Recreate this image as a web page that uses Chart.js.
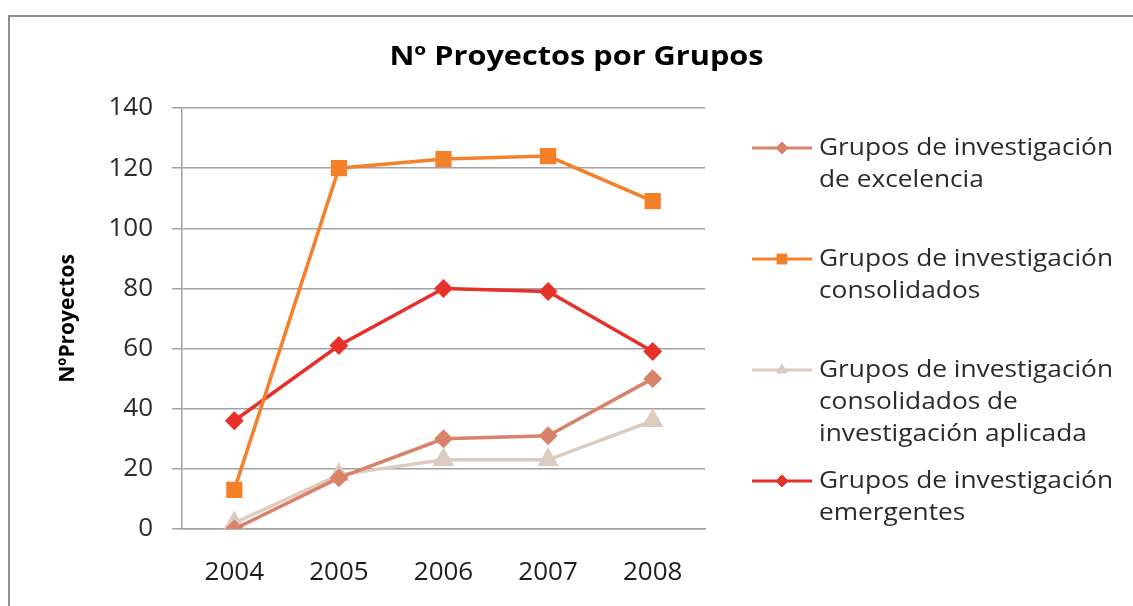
<!DOCTYPE html>
<html>
<head>
<meta charset="utf-8">
<script src="https://cdn.jsdelivr.net/npm/chart.js@4.4.0/dist/chart.umd.min.js"></script>
<style>
  html, body { margin: 0; padding: 0; background: #fff; overflow: hidden; }
  #frame { position: absolute; left: 8px; top: 15px; width: 1200px; height: 700px; border: 2px solid #8e8e8e; }
  #wrap { position: absolute; left: 10px; top: 16px; width: 1133px; height: 590px; }
</style>
</head>
<body>
<div id="frame"></div>
<div id="wrap"><canvas id="grafico"></canvas></div>
<script>
// Datos
const anios = ['2004', '2005', '2006', '2007', '2008'];
const excelencia = [0, 17, 30, 31, 50];
const consolidados = [13, 120, 123, 124, 109];
const aplicada = [2, 18, 23, 23, 36];
const emergentes = [36, 61, 80, 79, 59];

const nombres = [
    'Grupos de investigación de excelencia',
    'Grupos de investigación consolidados',
    'Grupos de investigación consolidados de investigación aplicada',
    'Grupos de investigación emergentes'
];
// Líneas de la leyenda tal y como aparecen
const lineasLeyenda = [
    ['Grupos de investigación', 'de excelencia'],
    ['Grupos de investigación', 'consolidados'],
    ['Grupos de investigación', 'consolidados de', 'investigación aplicada'],
    ['Grupos de investigación', 'emergentes']
];
const yTicks = [0, 20, 40, 60, 80, 100, 120, 140];
const titulo = 'Nº Proyectos por Grupos';

const colores = ['#d9826a', '#f5802a', '#dccbbe', '#e8302a'];
const estilos = ['rectRot', 'rect', 'triangle', 'rectRot'];
const radios = [7, 9, 9, 7];
const fuente = '"Open Sans", Lato, sans-serif';

function serie(i, datos) {
    return {
        label: nombres[i],
        data: datos,
        borderColor: colores[i],
        backgroundColor: colores[i],
        pointBackgroundColor: colores[i],
        pointBorderColor: colores[i],
        pointStyle: estilos[i],
        pointRadius: radios[i],
        borderWidth: 3.5,
        tension: 0
    };
}

// texto algo ensanchado, como en el original
function textoAncho(ctx, t, x, y, sx) {
    ctx.save();
    ctx.translate(x, y);
    ctx.scale(sx, 1);
    ctx.fillText(t, 0, 0);
    ctx.restore();
}

// Título centrado en todo el lienzo y leyenda a la derecha con varias líneas
const extrasPlugin = {
    id: 'extras',
    afterDraw(chart) {
        const ctx = chart.ctx;
        ctx.save();
        ctx.font = 'bold 26px ' + fuente;
        ctx.fillStyle = '#000';
        ctx.textAlign = 'center';
        ctx.textBaseline = 'middle';
        textoAncho(ctx, titulo, chart.width / 2, 42, 1.18);

        const x0 = chart.chartArea.right + 47;
        const filas = [132, 243, 354, 465];
        ctx.font = '24px ' + fuente;
        ctx.textAlign = 'left';
        chart.data.datasets.forEach((ds, i) => {
            const y = filas[i];
            ctx.strokeStyle = ds.borderColor;
            ctx.fillStyle = ds.backgroundColor;
            ctx.lineWidth = 3;
            ctx.beginPath();
            ctx.moveTo(x0, y);
            ctx.lineTo(x0 + 60, y);
            ctx.stroke();
            ctx.lineWidth = 1;
            Chart.helpers.drawPoint(ctx, {
                pointStyle: ds.pointStyle,
                radius: i === 1 ? 7 : 6,
                borderWidth: 1,
                rotation: 0
            }, x0 + 30, y);
            ctx.fillStyle = '#2b2b2b';
            lineasLeyenda[i].forEach((t, j) => {
                textoAncho(ctx, t, x0 + 67, y + j * 32, 1.095);
            });
        });
        ctx.restore();
    }
};

new Chart(document.getElementById('grafico'), {
    type: 'line',
    data: {
        labels: anios,
        datasets: [
            serie(0, excelencia),
            serie(1, consolidados),
            serie(2, aplicada),
            serie(3, emergentes)
        ]
    },
    options: {
        responsive: true,
        maintainAspectRatio: false,
        animation: false,
        layout: { padding: { left: 45, right: 438, top: 92, bottom: 0 } },
        plugins: {
            legend: { display: false },
            tooltip: { enabled: false },
            title: { display: false }
        },
        scales: {
            x: {
                offset: true,
                grid: { display: false, drawTicks: false },
                border: { display: true, color: '#a0a0a8', width: 1.5 },
                ticks: {
                    color: '#1e1e1e',
                    padding: 28,
                    font: { family: fuente, size: 26 }
                },
                afterFit(scale) { scale.height = 77; }
            },
            y: {
                min: 0,
                max: 140,
                afterBuildTicks(scale) { scale.ticks = yTicks.map(v => ({ value: v })); },
                grid: { color: '#a0a0a8', lineWidth: 1.5, tickLength: 10 },
                border: { display: true, color: '#a0a0a8', width: 1.5 },
                ticks: {
                    color: '#2b2b2b',
                    padding: 19,
                    font: { family: fuente, size: 26 }
                },
                title: {
                    display: true,
                    text: 'NºProyectos',
                    color: '#000',
                    font: { family: fuente, size: 21, weight: 'bold' },
                    padding: 0
                },
                afterFit(scale) { scale.width = 127; }
            }
        }
    },
    plugins: [extrasPlugin]
});
</script>
</body>
</html>
